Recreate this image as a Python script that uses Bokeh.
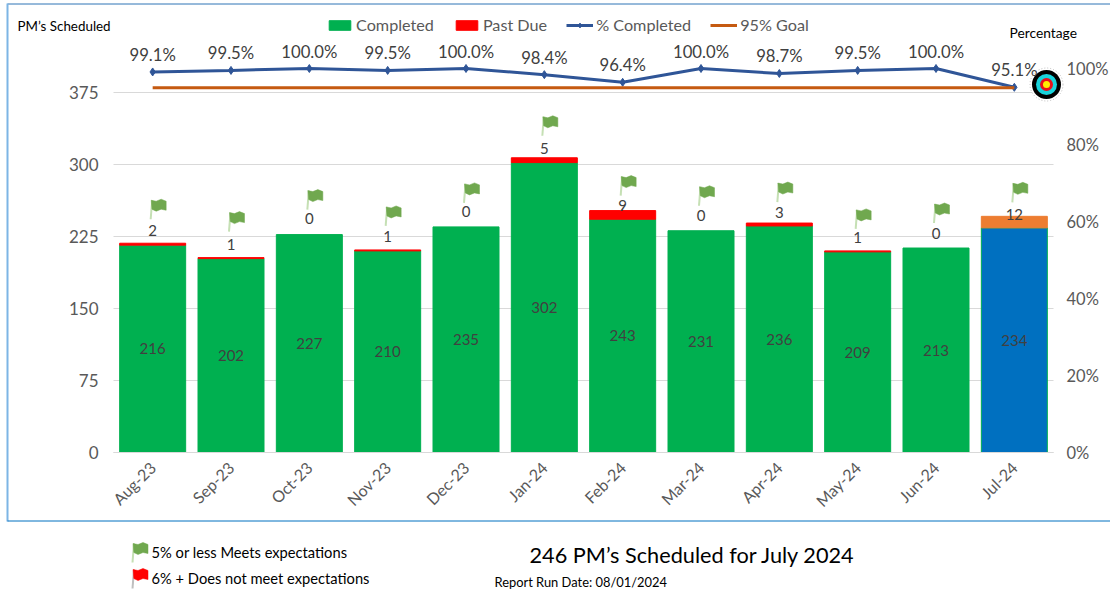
from bokeh.plotting import figure
from bokeh.embed import file_html
from bokeh.resources import INLINE
from bokeh.core.properties import value
from bokeh.models import (ColumnDataSource, Range1d, LinearAxis, FixedTicker, Label, LabelSet,
                          Legend, LegendItem)

months = ["Aug-23","Sep-23","Oct-23","Nov-23","Dec-23","Jan-24","Feb-24","Mar-24","Apr-24","May-24","Jun-24","Jul-24"]
completed = [216,202,227,210,235,302,243,231,236,209,213,234]
past_due = [2,1,0,1,0,5,9,0,3,1,0,12]
pct_completed = [99.1,99.5,100.0,99.5,100.0,98.4,96.4,100.0,98.7,99.5,100.0,95.1]
goal = [95]*12
pct_labels = [f"{v:.1f}%" for v in pct_completed]
left_ticks = [0,75,150,225,300,375]
right_ticks = [0,20,40,60,80,100]

# pixel offsets of annotations, kept apart from the data
past_label_gap = [13,13,16,13,15,9,5,15,11,13,15,2]
flag_gap = [24,26,25,24,24,22,15,25,21,22,25,14]

OFF = 0
W, H = 1110, 589
F_L, F_T, F_W, F_H = 113, 68, 940, 384   # plot area in page pixels
PX_X = F_W/12
PX_Y = F_H/400
def dx(px): return (px-F_L)/PX_X-0.5
def dy(py): return (F_T+F_H-py)/PX_Y

FONT = "Lato"
GREY = "#404040"
AXIS_GREY = "#595959"

p = figure(width=W, height=H, output_backend="svg", toolbar_location=None,
           x_range=Range1d(dx(OFF), dx(OFF+W)), y_range=Range1d(dy(OFF+H), dy(OFF)),
           min_border=0, outline_line_color=None,
           background_fill_color="white", border_fill_color="white")
p.extra_y_ranges = {"pct": Range1d(dy(OFF+H)/4, dy(OFF)/4)}

idx = list(range(12))
tops = [c+d for c, d in zip(completed, past_due)]
src = ColumnDataSource(dict(
    x=idx, completed=completed, past_due=past_due, tops=tops,
    mid=[c/2 for c in completed], pct=pct_completed, goal=goal, pct_labels=pct_labels,
    comp_text=[str(c) for c in completed], due_text=[str(d) for d in past_due],
    gap=past_label_gap,
    comp_color=["#00B050"]*11+["#0070C0"], due_color=["#FF0000"]*11+["#ED7D31"],
    due_line=[1 if d else 0 for d in past_due],
))

# axes (placed inside the full-page frame)
ax = p.xaxis[0]
ax.fixed_location = 0
ax.bounds = (-0.5, 11.5)
ax.ticker = FixedTicker(ticks=idx)
ax.major_label_overrides = {i: m for i, m in zip(idx, months)}
ax.major_label_orientation = 0.785
ax.major_label_text_font = FONT
ax.major_label_text_font_size = "16px"
ax.major_label_text_color = AXIS_GREY
ax.major_tick_line_color = None
ax.minor_tick_line_color = None
ax.axis_line_color = "#D9D9D9"
ax.major_label_standoff = 6

ay = p.yaxis[0]
ay.fixed_location = -0.5
ay.ticker = FixedTicker(ticks=left_ticks)
ay.major_label_text_font = FONT
ay.major_label_text_font_size = "17px"
ay.major_label_text_color = AXIS_GREY
ay.major_tick_line_color = None
ay.minor_tick_line_color = None
ay.axis_line_color = None
ay.major_label_standoff = 9

ar = LinearAxis(y_range_name="pct", ticker=FixedTicker(ticks=right_ticks), fixed_location=11.5,
                major_label_overrides={v: f"{v}%" for v in right_ticks},
                major_label_text_font=FONT, major_label_text_font_size="16.5px",
                major_label_text_color=AXIS_GREY, major_tick_line_color=None,
                minor_tick_line_color=None, axis_line_color=None, major_label_standoff=7)
p.add_layout(ar, "right")

# gridlines limited to the plot area
p.grid.visible = False
p.segment(x0=[-0.5]*len(left_ticks), x1=[11.5]*len(left_ticks), y0=left_ticks, y1=left_ticks,
          line_color="#D9D9D9", line_width=1)

BW = 66/PX_X
r_comp = p.vbar(x="x", bottom=0, top="completed", width=BW, source=src,
                fill_color="comp_color", line_color="#00B050", line_width=1)
r_due = p.vbar(x="x", bottom="completed", top="tops", width=BW, source=src,
               fill_color="due_color", line_color="due_color", line_alpha="due_line", line_width=1)
r_pct = p.line("x", "pct", source=src, y_range_name="pct", line_color="#2F5597", line_width=3)
r_pts = p.scatter("x", "pct", source=src, y_range_name="pct", marker="diamond", size=8,
                  fill_color="#2F5597", line_color="#2F5597")
r_goal = p.line("x", "goal", source=src, y_range_name="pct", line_color="#C55A11", line_width=3)

# flags over the bars
BAN_X = [0,5,10,15,15,10,5,0.8]
BAN_Y = [19,18,20,18,9,10,8,10]
def flag(ox, base, col, pole):
    p.line([ox, ox+1.5/PX_X], [base, base+19/PX_Y], line_color=pole, line_width=2)
    p.patch([ox + (a+0.5)/PX_X for a in BAN_X], [base + b/PX_Y for b in BAN_Y],
            fill_color=col, line_color=col, line_width=0.5)
for i, t, g in zip(idx, tops, flag_gap):
    flag(i - 2/PX_X, t + g/PX_Y, "#70A84F", "#C5E0B4")

# key flags below the chart
flag(dx(132), dy(562), "#70A84F", "#C5E0B4")
flag(dx(132), dy(588), "#FF0000", "#BFBFBF")

# target icon next to the last point
tx, ty = [dx(1046)], [dy(84)]
p.scatter(tx, ty, size=33, fill_color="white", line_color="#BFBFBF", line_dash="1 2", line_width=1)
p.scatter(tx, ty, size=29, fill_color="#000000", line_color=None)
p.scatter(tx, ty, size=21, fill_color="#19D3DC", line_color=None)
p.scatter(tx, ty, size=13, fill_color="#E8101C", line_color=None)
p.scatter(tx, ty, size=7, fill_color="#FFEE00", line_color=None)

# data labels
def labelset(x, y, text, size, **kw):
    p.add_layout(LabelSet(x=x, y=y, text=text, source=src, text_font=value(FONT), text_font_size=size,
                          text_color=GREY, text_align="center", text_baseline="middle", **kw))
labelset("x", "mid", "comp_text", "15px")
labelset("x", "tops", "due_text", "15px", y_offset="gap")
labelset("x", "pct", "pct_labels", "16.7px", y_range_name="pct", y_offset=17)

# legend placed above the plot area
legend = Legend(items=[
    LegendItem(label="Completed", renderers=[r_comp], index=0),
    LegendItem(label="Past Due", renderers=[r_due], index=0),
    LegendItem(label="% Completed", renderers=[r_pct, r_pts]),
    LegendItem(label="95% Goal", renderers=[r_goal]),
], orientation="horizontal", location=(326, H-34), border_line_color=None,
   background_fill_alpha=0, padding=0, margin=0, spacing=19, glyph_width=27, glyph_height=12,
   label_standoff=3, label_text_font=FONT, label_text_font_size="16.2px", label_text_color=AXIS_GREY)
p.add_layout(legend, "center")

def text(px, py, s, size, color="#000000", align="left"):
    p.add_layout(Label(x=dx(px), y=dy(py), text=s, text_font=FONT, text_font_size=size,
                       text_color=color, text_align=align, text_baseline="middle"))
text(17, 25, "PM\u2019s Scheduled", "13.4px")
text(1009, 32, "Percentage", "13.8px")
text(529, 554, "246 PM\u2019s Scheduled for July 2024", "21.7px")
text(494, 581, "Report Run Date: 08/01/2024", "12.9px")
text(151, 551, "5% or less Meets expectations", "14.7px")
text(151, 577, "6% +  Does not meet expectations", "14.7px")

# chart border
p.line([dx(7), dx(1110)], [dy(3.5), dy(3.5)], line_color="#2E75B6", line_width=1)
p.line([dx(7), dx(7)], [dy(3), dy(521)], line_color="#7DB5E5", line_width=2)
p.line([dx(7), dx(1110)], [dy(520.5), dy(520.5)], line_color="#0070C0", line_width=1)

open("out.html", "w").write(file_html(p, INLINE))
